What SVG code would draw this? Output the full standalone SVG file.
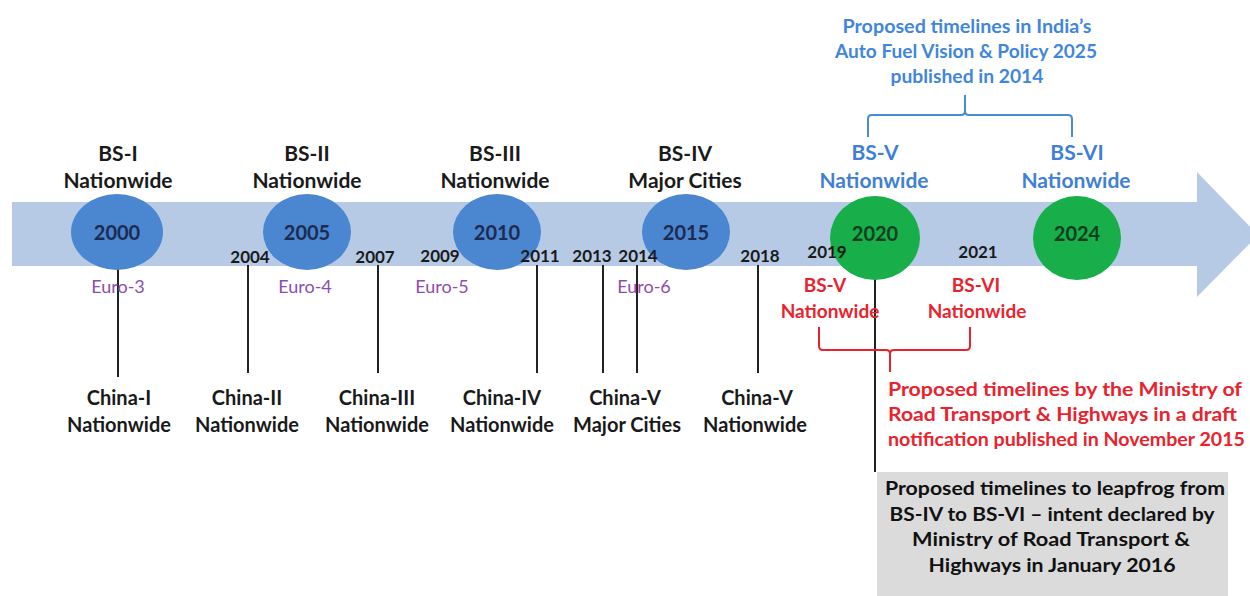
<svg xmlns="http://www.w3.org/2000/svg" width="1250" height="596" viewBox="0 0 1250 596">
<style>
text{font-family:Lato,"Liberation Sans",Arial,sans-serif;font-weight:bold;text-anchor:middle}
.lbl{font-size:21px;fill:#1a1a1a}
.blu{font-size:21px;fill:#3f80d6}
.cn{font-size:20px;fill:#1a1a1a}
.yr{font-size:20px;fill:#1c2b4f}
.yg{font-size:20px;fill:#0e3d1f}
.sy{font-size:17px;fill:#1a1a1a}
.eu{font-size:18px;fill:#8e4cb0;font-weight:normal}
.red{font-size:19px;fill:#e8232e}
.redt{font-size:19px;fill:#e8232e;text-anchor:start}
.bt{font-size:18px;fill:#3f86dc}
.gt{font-size:19px;fill:#111}
.cb{fill:#4b86d1}
.cg{fill:#18ae4a}
.ln{stroke:#222;stroke-width:2;fill:none}
</style>
<g id="timeline-arrow">
<polygon points="12,202 1197,202 1197,172 1258,235 1197,297 1197,266 12,266" fill="#b7cae5"/>
</g>
<g id="connectors">
<line class="ln" x1="118" y1="262" x2="118" y2="377"/>
<line class="ln" x1="248" y1="265" x2="248" y2="373"/>
<line class="ln" x1="378" y1="265" x2="378" y2="373"/>
<line class="ln" x1="537" y1="265" x2="537" y2="373"/>
<line class="ln" x1="603" y1="265" x2="603" y2="373"/>
<line class="ln" x1="637" y1="265" x2="637" y2="373"/>
<line class="ln" x1="758" y1="265" x2="758" y2="373"/>
<line class="ln" x1="875" y1="270" x2="875" y2="472"/>
<path d="M868,137 V119 Q868,115 872,115 H961 Q965,115 965,111 V95 M965,111 Q965,115 969,115 H1068 Q1072,115 1072,119 V137" stroke="#4a8bd8" stroke-width="2" fill="none"/>
<path d="M819,327 V346 Q819,350 823,350 H886 Q890,350 890,354 V372 M890,354 Q890,350 894,350 H966 Q970,350 970,346 V327" stroke="#e8232e" stroke-width="2" fill="none"/>
</g>
<g id="node-2000">
<ellipse class="cb" cx="117" cy="232" rx="46" ry="38"/>
<text class="yr" x="117" y="240">2000</text>
<text class="lbl" x="118" y="161">BS-I</text>
<text class="lbl" x="118" y="188">Nationwide</text>
</g>
<g id="node-2005">
<ellipse class="cb" cx="307" cy="232" rx="44" ry="38"/>
<text class="yr" x="307" y="240">2005</text>
<text class="lbl" x="307" y="161">BS-II</text>
<text class="lbl" x="307" y="188">Nationwide</text>
</g>
<g id="node-2010">
<ellipse class="cb" cx="497" cy="232" rx="44" ry="38"/>
<text class="yr" x="497" y="240">2010</text>
<text class="lbl" x="495" y="161">BS-III</text>
<text class="lbl" x="495" y="188">Nationwide</text>
</g>
<g id="node-2015">
<ellipse class="cb" cx="686" cy="232" rx="44" ry="38"/>
<text class="yr" x="686" y="240">2015</text>
<text class="lbl" x="685" y="161">BS-IV</text>
<text class="lbl" x="685" y="188">Major Cities</text>
</g>
<g id="node-2020">
<ellipse class="cg" cx="875" cy="238" rx="45" ry="42"/>
<text class="yg" x="875" y="241">2020</text>
<text class="blu" x="875" y="160">BS-V</text>
<text class="blu" x="874" y="188">Nationwide</text>
</g>
<g id="node-2024">
<ellipse class="cg" cx="1077" cy="238" rx="44" ry="42"/>
<text class="yg" x="1077" y="241">2024</text>
<text class="blu" x="1077" y="160">BS-VI</text>
<text class="blu" x="1076" y="188">Nationwide</text>
</g>
<g id="small-years">
<text class="sy" x="250" y="263">2004</text>
<text class="sy" x="375" y="263">2007</text>
<text class="sy" x="440" y="262">2009</text>
<text class="sy" x="540" y="262">2011</text>
<text class="sy" x="592" y="262">2013</text>
<text class="sy" x="638" y="262">2014</text>
<text class="sy" x="760" y="262">2018</text>
<text class="sy" x="827" y="258">2019</text>
<text class="sy" x="978" y="258">2021</text>
</g>
<g id="euro-labels">
<text class="eu" x="118" y="293">Euro-3</text>
<text class="eu" x="305" y="293">Euro-4</text>
<text class="eu" x="442" y="293">Euro-5</text>
<text class="eu" x="644" y="293">Euro-6</text>
</g>
<g id="china-labels">
<text class="cn" x="119" y="405">China-I</text>
<text class="cn" x="119" y="432">Nationwide</text>
<text class="cn" x="247" y="405">China-II</text>
<text class="cn" x="247" y="432">Nationwide</text>
<text class="cn" x="377" y="405">China-III</text>
<text class="cn" x="377" y="432">Nationwide</text>
<text class="cn" x="502" y="405">China-IV</text>
<text class="cn" x="502" y="432">Nationwide</text>
<text class="cn" x="625" y="405">China-V</text>
<text class="cn" x="627" y="432">Major Cities</text>
<text class="cn" x="757" y="405">China-V</text>
<text class="cn" x="755" y="432">Nationwide</text>
</g>
<g id="red-proposal">
<text class="red" x="825" y="292">BS-V</text>
<text class="red" x="830" y="318">Nationwide</text>
<text class="red" x="976" y="292">BS-VI</text>
<text class="red" x="977" y="318">Nationwide</text>
<text class="redt" x="888" y="396" textLength="354" lengthAdjust="spacingAndGlyphs">Proposed timelines by the Ministry of</text>
<text class="redt" x="888" y="421" textLength="349" lengthAdjust="spacingAndGlyphs">Road Transport  &amp; Highways in a draft</text>
<text class="redt" x="888" y="446" textLength="357" lengthAdjust="spacingAndGlyphs">notification published  in November 2015</text>
</g>
<g id="blue-proposal">
<text class="bt" x="967" y="33" textLength="249" lengthAdjust="spacingAndGlyphs">Proposed timelines in India’s</text>
<text class="bt" x="966" y="58" textLength="262" lengthAdjust="spacingAndGlyphs">Auto Fuel Vision &amp; Policy 2025</text>
<text class="bt" x="967" y="83" textLength="153" lengthAdjust="spacingAndGlyphs">published in 2014</text>
</g>
<g id="leapfrog-box">
<rect x="877" y="472" width="351" height="124" fill="#dbdbdb"/>
<text class="gt" x="1055" y="495" textLength="340" lengthAdjust="spacingAndGlyphs">Proposed timelines to leapfrog from</text>
<text class="gt" x="1052" y="521" textLength="325" lengthAdjust="spacingAndGlyphs">BS-IV to BS-VI – intent declared by</text>
<text class="gt" x="1051" y="546" textLength="278" lengthAdjust="spacingAndGlyphs">Ministry of Road Transport &amp;</text>
<text class="gt" x="1052" y="572" textLength="247" lengthAdjust="spacingAndGlyphs">Highways in January 2016</text>
</g>
</svg>
